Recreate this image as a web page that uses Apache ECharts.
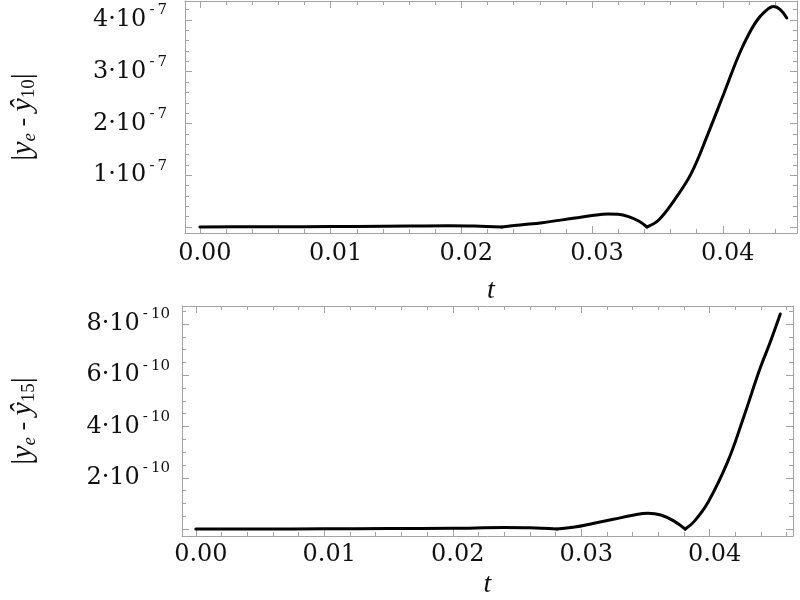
<!DOCTYPE html>
<html><head><meta charset="utf-8">
<script src="https://cdn.jsdelivr.net/npm/echarts@6/dist/echarts.min.js"></script>
<style>html,body{margin:0;padding:0;background:#fff}#c{width:800px;height:600px}</style>
</head><body><div id="c"></div>
<script>
// ---- Data ----
// Top panel |y_e - ŷ_10|, values in units of 1e-7
const topT = [0, 0.004, 0.008, 0.012, 0.016, 0.019, 0.021, 0.0231, 0.0245, 0.0262, 0.0287, 0.0300, 0.0312, 0.0320, 0.0328, 0.0336, 0.0342, 0.0351, 0.0363, 0.0376, 0.0389, 0.0401, 0.0414, 0.0425, 0.0433, 0.0439, 0.0444, 0.0449];
const topV = [0.002, 0.004, 0.007, 0.011, 0.018, 0.025, 0.02, 0, 0.04, 0.083, 0.174, 0.22, 0.25, 0.245, 0.20, 0.11, 0, 0.135, 0.52, 1.04, 1.82, 2.59, 3.42, 3.95, 4.18, 4.26, 4.20, 4.04];
const topCusps = [0.0231, 0.0342];
// Bottom panel |y_e - ŷ_15|, values in units of 1e-10
const botT = [0, 0.005, 0.010, 0.015, 0.020, 0.024, 0.026, 0.0281, 0.0295, 0.0310, 0.0325, 0.0340, 0.0352, 0.0362, 0.0372, 0.0381, 0.0388, 0.0399, 0.0414, 0.0426, 0.0439, 0.0447, 0.0455];
const botV = [0.0, 0.0, 0.01, 0.02, 0.03, 0.06, 0.05, 0, 0.08, 0.23, 0.38, 0.54, 0.62, 0.55, 0.32, 0, 0.30, 1.07, 2.62, 4.29, 6.23, 7.27, 8.39];
const botCusps = [0.0281, 0.0381];
// Tick labels
const xTicks = [0, 0.01, 0.02, 0.03, 0.04];
const topYTicks = [1, 2, 3, 4];   // ×10^-7
const botYTicks = [2, 4, 6, 8];   // ×10^-10
const topExp = '-7', botExp = '-10';

// ---- helpers ----
const GREY = '#a3a3a3';
const range = (a, b, s) => { const r = []; for (let v = a; v <= b + 1e-12; v += s) r.push(+v.toFixed(6)); return r; };
function segments(ts, vs, cusps) {
  const segs = []; let cur = [];
  ts.forEach((t, i) => { cur.push([t, vs[i]]); if (cusps.includes(t)) { segs.push(cur); cur = [[t, vs[i]]]; } });
  segs.push(cur); return segs;
}
const labelFont = 'DejaVu Serif';
function xAxes(g, min, max, labelMargin, nameGap) {
  const c = { type: 'value', gridIndex: g, min, max, splitLine: { show: false } };
  const line = { show: true, onZero: false, lineStyle: { color: GREY, width: 1 } };
  const minors = range(0, max, 0.002);
  return [
    Object.assign({}, c, { position: 'bottom', axisLine: line,
      axisTick: { show: true, inside: true, length: 7, customValues: [0, 0.01, 0.02, 0.03, 0.04], lineStyle: { color: GREY } },
      axisLabel: { show: true, customValues: xTicks, formatter: v => v.toFixed(2), margin: labelMargin, fontFamily: labelFont, fontSize: 24, color: '#111', padding: [0, 0, 0, 10] },
      name: 't', nameLocation: 'middle', nameGap: nameGap,
      nameTextStyle: { fontFamily: 'Liberation Serif', fontStyle: 'italic', fontSize: 28, color: '#111', verticalAlign: 'top' } }),
    Object.assign({}, c, { position: 'bottom', axisLine: { show: false, onZero: false },
      axisTick: { show: true, inside: true, length: 4, customValues: minors, lineStyle: { color: GREY } }, axisLabel: { show: false } }),
    Object.assign({}, c, { position: 'top', axisLine: line,
      axisTick: { show: true, inside: true, length: 7, customValues: [0, 0.01, 0.02, 0.03, 0.04], lineStyle: { color: GREY } }, axisLabel: { show: false } }),
    Object.assign({}, c, { position: 'top', axisLine: { show: false, onZero: false },
      axisTick: { show: true, inside: true, length: 4, customValues: minors, lineStyle: { color: GREY } }, axisLabel: { show: false } })
  ];
}
function yAxes(g, min, max, majors, labels, minorStep, exp, sub, labelMargin, nameGap) {
  const c = { type: 'value', gridIndex: g, min, max, splitLine: { show: false } };
  const line = { show: true, onZero: false, lineStyle: { color: GREY, width: 1 } };
  const minors = range(0, max, minorStep);
  return [
    Object.assign({}, c, { position: 'left', axisLine: line,
      axisTick: { show: true, inside: true, length: 7, customValues: majors, lineStyle: { color: GREY } },
      axisLabel: { show: true, customValues: labels, margin: labelMargin,
        formatter: v => '{b|' + v + '·10}{s|' + exp.replace('-', '-\u2009') + '}',
        rich: { b: { fontFamily: labelFont, fontSize: 24, color: '#111', lineHeight: 34, verticalAlign: 'middle' },
                s: { fontFamily: labelFont, fontSize: 15, color: '#111', lineHeight: 15, verticalAlign: 'top', padding: [0, 0, 0, 3] } } },
      name: '{bar||}{y|y}{subi|e}{op| - }{y|ŷ}{sub|' + sub + '}{bar||}', nameLocation: 'middle', nameRotate: 90, nameGap: nameGap,
      nameTextStyle: { rich: {
        bar: { fontFamily: 'Liberation Serif', fontSize: 30, color: '#111', lineHeight: 32, verticalAlign: 'middle' },
        y: { fontFamily: 'Liberation Serif', fontStyle: 'italic', fontSize: 30, color: '#111', lineHeight: 32, verticalAlign: 'middle' },
        op: { fontFamily: 'Liberation Serif', fontSize: 26, color: '#111', lineHeight: 32, verticalAlign: 'middle' },
        subi: { fontFamily: 'Liberation Serif', fontStyle: 'italic', fontSize: 19, color: '#111', lineHeight: 18, verticalAlign: 'bottom' },
        sub: { fontFamily: 'Liberation Serif', fontSize: 19, color: '#111', lineHeight: 18, verticalAlign: 'bottom' } } } }),
    Object.assign({}, c, { position: 'left', axisLine: { show: false, onZero: false },
      axisTick: { show: true, inside: true, length: 4, customValues: minors, lineStyle: { color: GREY } }, axisLabel: { show: false } }),
    Object.assign({}, c, { position: 'right', axisLine: line,
      axisTick: { show: true, inside: true, length: 7, customValues: majors, lineStyle: { color: GREY } }, axisLabel: { show: false } }),
    Object.assign({}, c, { position: 'right', axisLine: { show: false, onZero: false },
      axisTick: { show: true, inside: true, length: 4, customValues: minors, lineStyle: { color: GREY } }, axisLabel: { show: false } })
  ];
}

const lineStyle = { color: '#000', width: 3, join: 'round', cap: 'round' };
const series = [];
segments(topT, topV, topCusps).forEach(d => series.push({ type: 'line', xAxisIndex: 0, yAxisIndex: 0, data: d, smooth: 0.4, showSymbol: false, lineStyle }));
segments(botT, botV, botCusps).forEach(d => series.push({ type: 'line', xAxisIndex: 4, yAxisIndex: 4, data: d, smooth: 0.4, showSymbol: false, lineStyle }));

const option = {
  backgroundColor: '#fff',
  animation: false,
  grid: [
    { left: 179, top: 1, width: 618, height: 232, containLabel: false },
    { left: 177, top: 306, width: 616, height: 232, containLabel: false }
  ],
  xAxis: [].concat(
    xAxes(0, -0.00114, 0.04568, 9, 44),
    xAxes(1, -0.00108, 0.04649, 7, 35)
  ),
  yAxis: [].concat(
    yAxes(0, -0.116, 4.367, [0, 1, 2, 3, 4], topYTicks, 0.2, topExp, '10', 18, 146),
    yAxes(1, -0.27, 8.70, [0, 2, 4, 6, 8], botYTicks, 0.5, botExp, '15', 12, 143)
  ),
  series
};
const chart = echarts.init(document.getElementById('c'), null, { renderer: 'canvas' });
chart.setOption(option);
</script></body></html>
